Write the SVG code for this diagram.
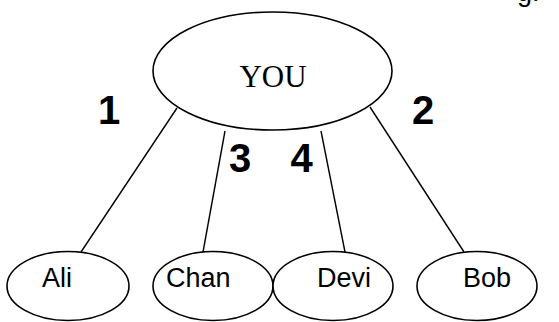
<svg xmlns="http://www.w3.org/2000/svg" width="559" height="322" viewBox="0 0 559 322">
<style>
.node{fill:#fff;stroke:#000;stroke-width:1.6}
.edge{stroke:#000;stroke-width:1.4;fill:none}
.name{font-family:"Liberation Sans",Arial,sans-serif;font-size:27px;fill:#000}
.num{font-family:"Liberation Sans",Arial,sans-serif;font-size:40px;font-weight:bold;fill:#000;text-anchor:middle}
.you{font-family:"Liberation Serif","Times New Roman",serif;font-size:31px;fill:#000;text-anchor:middle}
</style>
<rect width="559" height="322" fill="#fff"/>
<text class="name" x="517" y="0.5">g.</text>
<g id="connectors">
<line class="edge" x1="177" y1="108" x2="81" y2="252"/>
<line class="edge" x1="225" y1="131" x2="203" y2="252"/>
<line class="edge" x1="321" y1="131" x2="345" y2="252"/>
<line class="edge" x1="370" y1="107" x2="464" y2="252"/>
</g>
<g id="labels">
<text class="num" x="109" y="124">1</text>
<text class="num" x="423" y="124">2</text>
<text class="num" x="240" y="172">3</text>
<text class="num" x="301.5" y="172">4</text>
</g>
<g id="you">
<ellipse class="node" cx="272.5" cy="71" rx="119.5" ry="59"/>
<text class="you" x="273" y="87">YOU</text>
</g>
<g id="ali">
<ellipse class="node" cx="68" cy="286" rx="61" ry="34.5"/>
<text class="name" x="42" y="287">Ali</text>
</g>
<g id="chan">
<ellipse class="node" cx="213" cy="286" rx="60" ry="34.5"/>
<text class="name" x="166" y="287">Chan</text>
</g>
<g id="devi">
<ellipse class="node" cx="333" cy="286" rx="60" ry="34.5"/>
<text class="name" x="317" y="287">Devi</text>
</g>
<g id="bob">
<ellipse class="node" cx="477" cy="286" rx="60" ry="34.5"/>
<text class="name" x="463" y="287">Bob</text>
</g>
</svg>
